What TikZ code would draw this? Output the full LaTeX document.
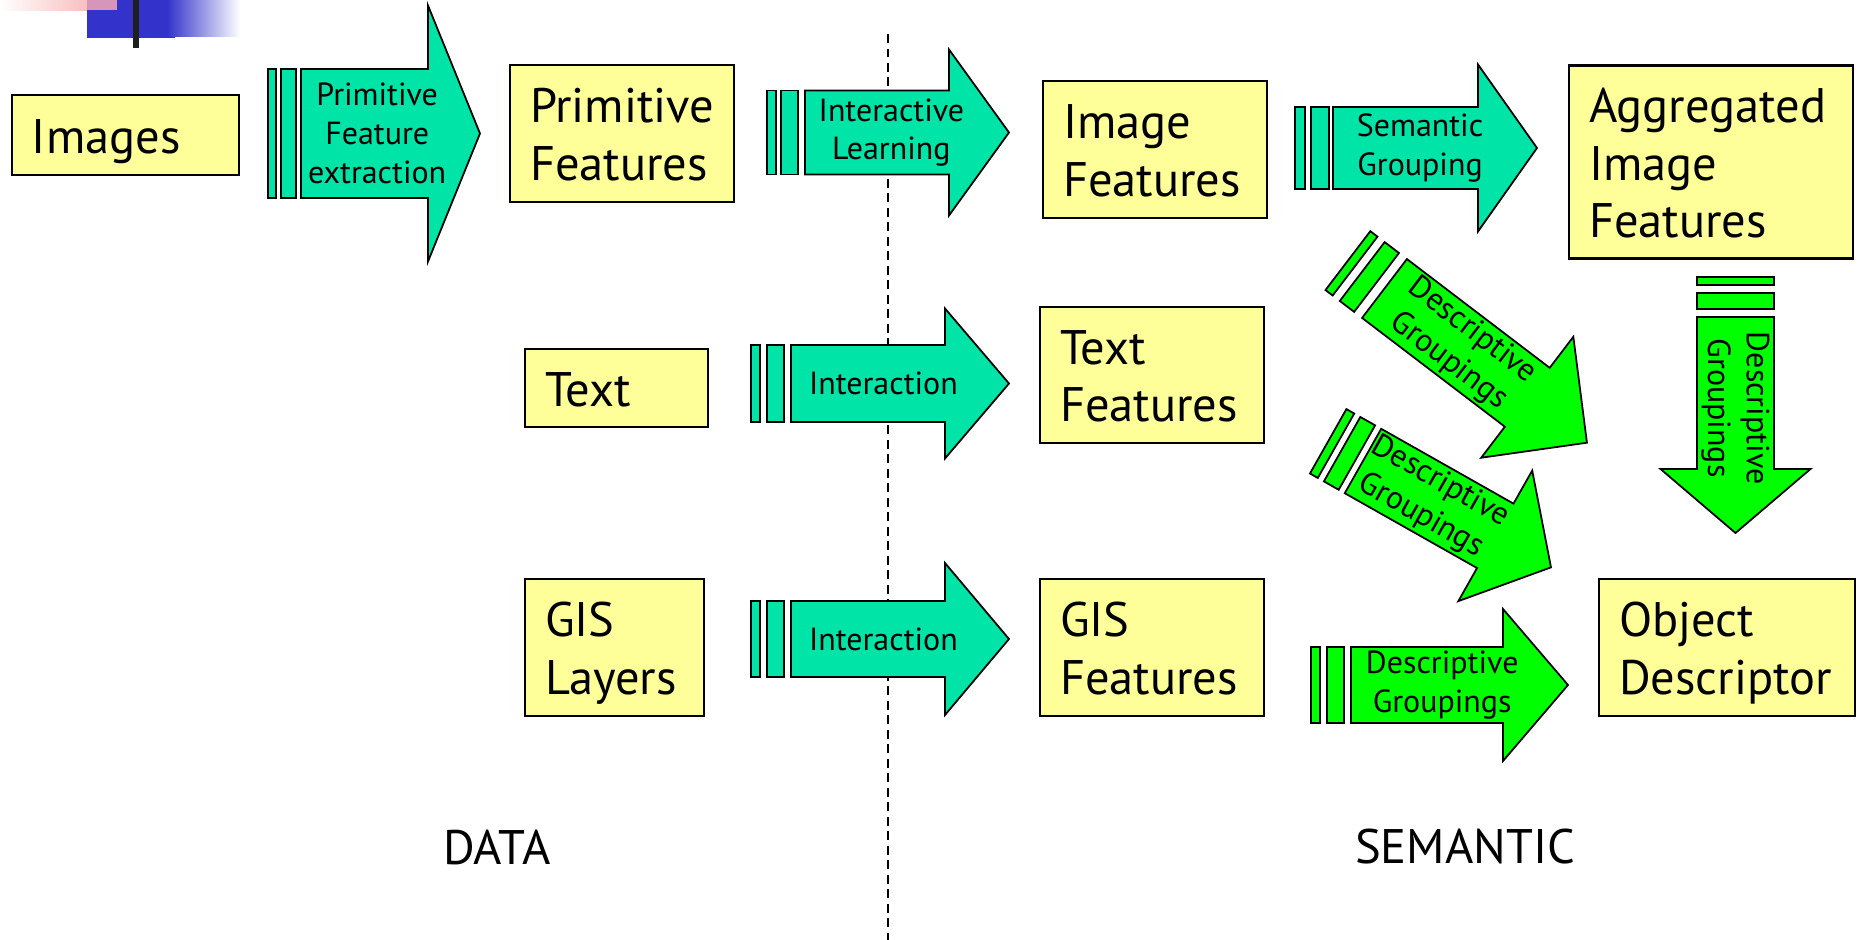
\documentclass[tikz,border=0pt]{standalone}
\usepackage{fontspec}
\setmainfont{PT Sans}

\definecolor{boxyellow}{RGB}{255,255,153}
\definecolor{stepteal}{RGB}{0,228,168}
\definecolor{groupgreen}{RGB}{0,255,0}
\definecolor{slideblue}{RGB}{51,51,204}
\definecolor{slidepink}{RGB}{245,170,170}
\definecolor{slidemix}{RGB}{215,150,185}

% block arrow with two stripes at its back, laid out along its own x axis
\tikzset{
  blk shaft/.store in=\shaftlen, blk head/.store in=\headlen,
  blk half/.store in=\halfw,     blk wing/.store in=\wingw,
  blk tag/.store in=\tagpos,
  blk stripes/.code n args={4}{\def\stripeA{#1}\def\stripeB{#2}\def\stripeC{#3}\def\stripeD{#4}},
  blk shaft=152, blk head=64, blk half=38, blk wing=75, blk tag=0.6,
  blk stripes={-40}{-31}{-24}{-7}
}
\newcommand{\blockarrow}[4]{% options, name, fill, label
  \begin{scope}[#1]
    \filldraw[fill=#3, outline] (\stripeA,-\halfw) rectangle (\stripeB,\halfw);
    \filldraw[fill=#3, outline] (\stripeC,-\halfw) rectangle (\stripeD,\halfw);
    \filldraw[fill=#3, outline] (0,-\halfw) -- (\shaftlen,-\halfw) -- (\shaftlen,-\wingw)
      -- (\shaftlen+\headlen,0) -- (\shaftlen,\wingw) -- (\shaftlen,\halfw) -- (0,\halfw) -- cycle;
    \node[lbl, transform shape] (#2) at (\tagpos*\shaftlen,0) {#4};
  \end{scope}}
\newcommand{\nohyph}{\hyphenpenalty10000\relax}
% fixed top and bottom of the box text, so it sits a bit low like on the slide
\newcommand{\topstrut}{\rule{0pt}{4.7mm}}
\newcommand{\botstrut}{\rule[-1.1mm]{0pt}{1.1mm}}

\begin{document}
\begin{tikzpicture}[
  x=0.1mm, y=-0.1mm,
  box/.style={draw, line width=0.6pt, fill=boxyellow, align=left,
              inner xsep=2mm, inner ysep=0pt,
              font={\fontsize{13.8}{16.4}\selectfont\nohyph},
              execute at begin node=\topstrut, execute at end node=\botstrut},
  lbl/.style={align=center, inner sep=0pt, font=\fontsize{9.1}{11}\selectfont},
  outline/.style={draw=black, line width=0.5pt, line join=miter},
  divider/.style={line width=0.6pt, dash pattern=on 0.9mm off 0.55mm},
  side/.style={inner sep=0pt, font=\fontsize{13.8}{16}\selectfont}
]
\useasboundingbox (0,0) rectangle (1859,940);

% slide corner
\shade[left color=white, right color=slidepink] (0,0) rectangle (117,10);
\fill[slideblue] (87,0) rectangle (175,38);
\shade[left color=slideblue, right color=white] (167,0) rectangle (240,36);
\fill[slidemix] (87,0) rectangle (117,10);
\fill[black!88] (133,0) rectangle (139,48);

% line between the two halves
\draw[divider] (888,34) -- (888,940);

% data side
\node[box, text width=18.7mm, minimum height=8mm]    (img)  at (125.5,135)   {Images};
\node[box, text width=18.4mm, minimum height=13.7mm] (prim) at (622,133.5)   {Primitive\\Features};
\node[box, text width=14.3mm, minimum height=7.8mm]  (txt)  at (616.5,388)   {Text};
\node[box, text width=13.9mm, minimum height=13.7mm] (gis)  at (614.5,647.5) {GIS\\Layers};
% semantic side
\node[box, text width=18.4mm, minimum height=13.7mm] (imgf) at (1155,149.5)  {Image\\Features};
\node[box, text width=24.4mm, minimum height=19.3mm] (aggr) at (1711,162)    {Aggregated\\Image\\Features};
\node[box, text width=18.4mm, minimum height=13.6mm] (txtf) at (1152,375)    {Text\\Features};
\node[box, text width=18.4mm, minimum height=13.7mm] (gisf) at (1152,647.5)  {GIS\\Features};
\node[box, text width=21.6mm, minimum height=13.7mm] (obj)  at (1727,647.5)  {Object\\Descriptor};

% steps
\blockarrow{shift={(301,133.5)}, blk shaft=127, blk head=52, blk half=64.5, blk wing=128,
  blk stripes={-33}{-25}{-20}{-5}}{extract}{stepteal}{Primitive\\Feature\\extraction}
\blockarrow{shift={(805,132.5)}, blk shaft=144, blk head=60, blk half=42, blk wing=83,
  blk stripes={-38}{-29}{-24}{-7}}{learn}{stepteal}{Interactive\\Learning}
\blockarrow{shift={(791,383.5)}, blk shaft=154, blk half=38.5}{inttxt}{stepteal}{Interaction}
\blockarrow{shift={(791,639)}, blk shaft=154, blk wing=76}{intgis}{stepteal}{Interaction}
\blockarrow{shift={(1333,148)}, blk shaft=145, blk head=59, blk half=41, blk wing=83.5,
  blk stripes={-38}{-28}{-22}{-4}}{sem}{stepteal}{Semantic\\Grouping}

% groupings into the descriptor
\blockarrow{shift={(1735.5,317)}, rotate=-90, blk half=38.5,
  blk stripes={-40}{-32}{-24}{-8}}{dgaggr}{groupgreen}{Descriptive\\Groupings}
\blockarrow{shift={(1384.5,288.5)}, rotate=-37.3, blk shaft=179.5, blk head=75, blk half=37,
  blk wing=76, blk tag=0.53, blk stripes={-46}{-37}{-28}{-10}}{dgimg}{groupgreen}{Descriptive\\Groupings}
\blockarrow{shift={(1363,461)}, rotate=-29.5, blk half=37, blk tag=0.51}{dgtxt}{groupgreen}{Descriptive\\Groupings}
\blockarrow{shift={(1351,685)}, blk head=65, blk wing=76}{dggis}{groupgreen}{Descriptive\\Groupings}

\node[side] (data)     at (497,847)  {DATA};
\node[side] (semantic) at (1465,847) {SEMANTIC};
\end{tikzpicture}
\end{document}
